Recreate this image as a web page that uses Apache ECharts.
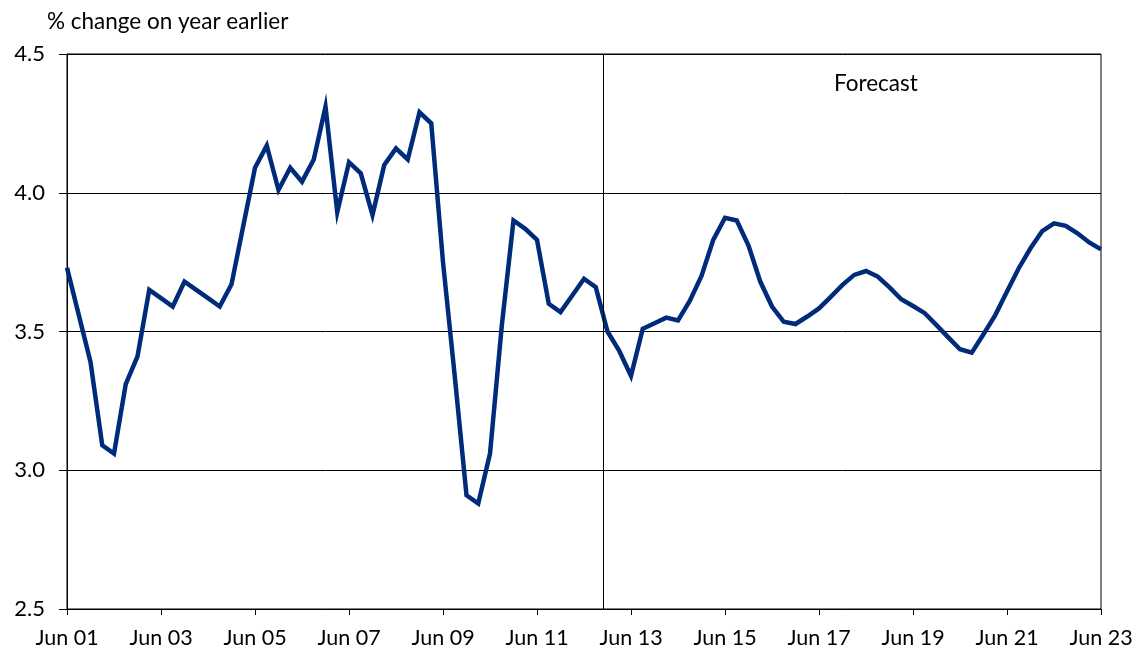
<!DOCTYPE html>
<html>
<head>
<meta charset="utf-8">
<script src="https://cdn.jsdelivr.net/npm/echarts@6/dist/echarts.min.js"></script>
<style>
  html, body { margin: 0; padding: 0; background: #fff; }
  #chart { width: 1137px; height: 653px; }
</style>
</head>
<body>
<div id="chart"></div>
<script>
// quarterly, Jun 01 .. Jun 23 (index 0..88)
const values = [
  3.73, 3.56, 3.39, 3.09, 3.06, 3.31, 3.41, 3.65, 3.62, 3.59,
  3.68, 3.65, 3.62, 3.59, 3.67, 3.88, 4.09, 4.17, 4.01, 4.09,
  4.04, 4.12, 4.31, 3.93, 4.11, 4.07, 3.92, 4.10, 4.16, 4.12,
  4.29, 4.25, 3.75, 3.34, 2.91, 2.88, 3.06, 3.52, 3.90, 3.87,
  3.83, 3.60, 3.57, 3.63, 3.69, 3.66, 3.50, 3.43, 3.34, 3.51,
  3.53, 3.55, 3.54, 3.61, 3.70, 3.83, 3.91, 3.90, 3.81, 3.68,
  3.59, 3.535, 3.527, 3.554, 3.583, 3.625, 3.668, 3.704, 3.718, 3.698,
  3.659, 3.616, 3.592, 3.566, 3.523, 3.479, 3.436, 3.424, 3.49, 3.559,
  3.644, 3.728, 3.80, 3.862, 3.89, 3.881, 3.854, 3.821, 3.796
]
const startYear = 1
const forecastStart = 45.6
const yTicks = [2.5, 3.0, 3.5, 4.0, 4.5]

const font = 'Lato, "Open Sans", sans-serif'

const chart = echarts.init(document.getElementById('chart'))

const option = {
  animation: false,
  textStyle: { fontFamily: font },
  grid: {
    left: 67, right: 36, top: 54, bottom: 44,
    show: true, borderColor: '#000', borderWidth: 1
  },
  graphic: [
    {
      type: 'text', left: 47, top: 10,
      style: { text: '% change on year earlier', font: '22.5px ' + font, fill: '#000' }
    },
    {
      type: 'text', left: 834, top: 72,
      style: { text: 'Forecast', font: '22.5px ' + font, fill: '#000' }
    }
  ],
  xAxis: {
    type: 'value',
    min: 0,
    max: values.length - 1,
    interval: 8,
    axisLine: { lineStyle: { color: '#000', width: 1 } },
    axisTick: { show: true, inside: false, length: 6, lineStyle: { color: '#000' } },
    splitLine: { show: false },
    axisLabel: {
      color: '#000', fontSize: 21.5, margin: 18,
      formatter: v => 'Jun ' + String(startYear + v / 4).padStart(2, '0')
    }
  },
  yAxis: {
    type: 'value',
    min: yTicks[0],
    max: yTicks[yTicks.length - 1],
    interval: 0.5,
    axisLine: { show: true, lineStyle: { color: '#000', width: 1 } },
    axisTick: { show: true, inside: false, length: 8, lineStyle: { color: '#000' } },
    splitLine: { show: true, lineStyle: { color: '#000', width: 1 } },
    axisLabel: {
      color: '#000', fontSize: 22, margin: 22,
      formatter: v => v.toFixed(1)
    }
  },
  series: [{
    type: 'line',
    data: values.map((v, i) => [i, v]),
    showSymbol: false,
    lineStyle: { color: '#002a7a', width: 4.5, join: 'miter' },
    markLine: {
      silent: true,
      symbol: 'none',
      label: { show: false },
      lineStyle: { color: '#000', width: 1, type: 'solid' },
      data: [{ xAxis: forecastStart }]
    }
  }]
}

chart.setOption(option)
</script>
</body>
</html>
